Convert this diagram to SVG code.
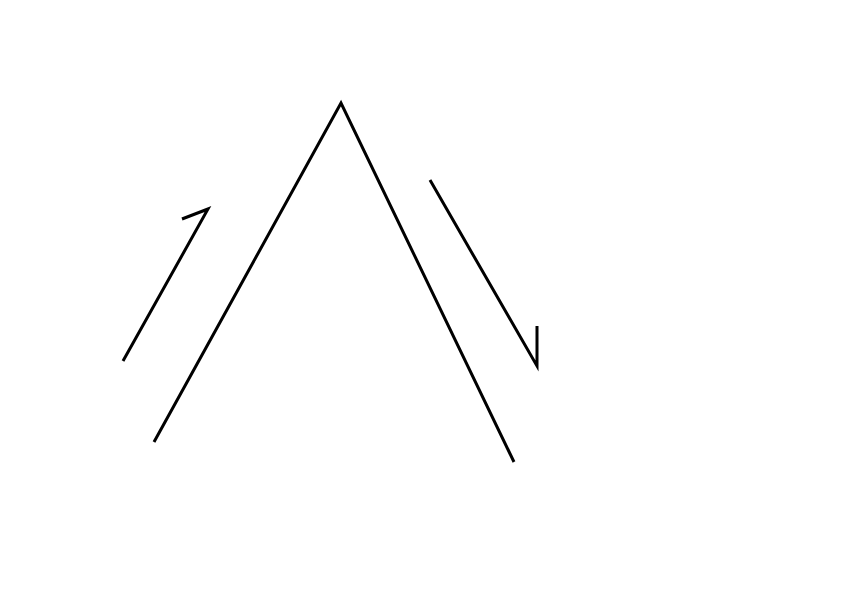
<svg xmlns="http://www.w3.org/2000/svg" width="842" height="595" viewBox="0 0 842 595">
<style>.ln{fill:none;stroke:#000;stroke-width:3;stroke-linejoin:miter;stroke-linecap:butt}</style>
<rect width="842" height="595" fill="#fff"/>
<g id="peak"><polyline class="ln" points="154,442 341,103 514,462"/></g>
<g id="connectors">
<polyline class="ln" points="123,361 208,209 182,219"/>
<polyline class="ln" points="430,180 537,366 537,326"/>
</g>
</svg>
